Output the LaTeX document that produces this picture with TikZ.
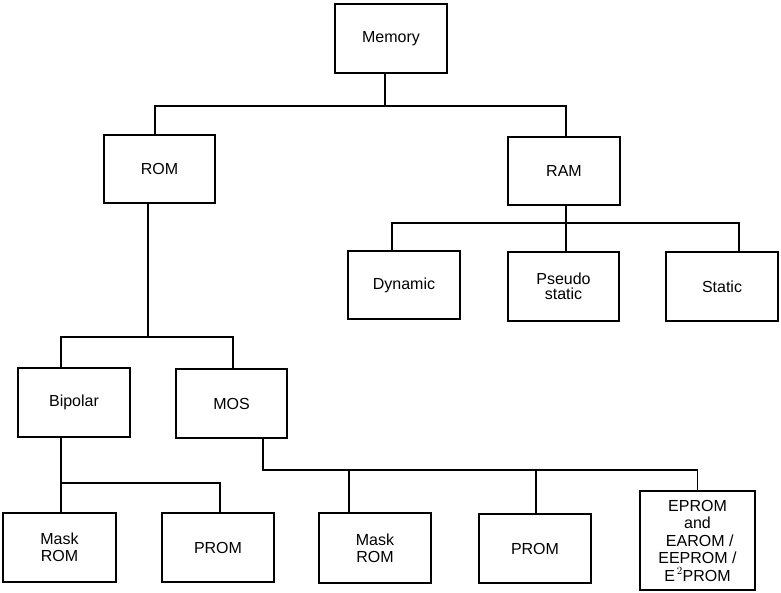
\documentclass[tikz,border=0pt]{standalone}
\usepackage{fontspec}
\setmainfont{Liberation Sans}
\begin{document}
\begin{tikzpicture}[x=1pt,y=-1pt,
  box/.style={draw, line width=1.8pt, rectangle, inner sep=0pt, align=center,
    minimum width=112pt, minimum height=69pt,
    font=\fontsize{16}{17}\selectfont},
  wire/.style={line width=1.3pt}]
\useasboundingbox (0,0) rectangle (781,593);
% level 0
\node[box] (mem) at (391,38.5) {Memory};
% level 1
\node[box, minimum width=111pt, minimum height=68pt] (rom) at (159.5,169) {ROM};
\node[box, minimum height=68pt] (ram) at (564,171) {RAM};
% RAM children
\node[box, minimum height=68pt] (dyn) at (404,285) {Dynamic};
\node[box, minimum width=111pt, font=\fontsize{16}{15}\selectfont] (pse) at (563.5,286.5) {Pseudo\\static};
\node[box] (sta) at (722,286.5) {Static};
% ROM children
\node[box] (bip) at (74,402.5) {Bipolar};
\node[box, minimum width=111pt] (mos) at (231.5,403.5) {MOS};
% Bipolar children
\node[box, minimum width=113pt] (maska) at (59.5,547.5) {Mask\\ROM};
\node[box] (proma) at (218,547.5) {PROM};
% MOS children
\node[box, minimum height=70pt] (maskb) at (375,548) {Mask\\ROM};
\node[box] (promb) at (535,548.5) {PROM};
\node[box, minimum width=115pt, minimum height=99pt, font=\fontsize{16}{17.5}\selectfont] (epr) at (697.5,540.5) {EPROM\\and\\\ EAROM /\\EEPROM /\\E$^{\,2}$PROM};
% bus coordinates
\coordinate (busM) at (385,106);
\coordinate (busROM) at (148,337);
\coordinate (busRAM) at (566,223);
\coordinate (busBip) at (61,483);
\coordinate (busMOS) at (263,470);
% connectors
\draw[wire] ([xshift=-6pt]mem.south) -- (busM);
\draw[wire] ([xshift=-4.5pt]rom.north) |- (busM) -| ([xshift=2pt]ram.north);
\draw[wire] ([xshift=-11.5pt]rom.south) -- (busROM);
\draw[wire] ([xshift=-13pt]bip.north) |- (busROM) -| ([xshift=1.5pt]mos.north);
\draw[wire] ([xshift=2pt]ram.south) -- (busRAM);
\draw[wire] ([xshift=-12pt]dyn.north) |- (busRAM) -| ([xshift=17pt]sta.north);
\draw[wire] (busRAM) -- ([xshift=2.5pt]pse.north);
\draw[wire] ([xshift=-13pt]bip.south) -- (busBip) -- ([xshift=1.5pt]maska.north);
\draw[wire] (busBip) -| ([xshift=2pt]proma.north);
\draw[wire] ([xshift=31.5pt]mos.south) -- (busMOS) -| (epr.north);
\draw[wire] ([xshift=-26pt]maskb.north) |- (busMOS);
\draw[wire] ([xshift=1pt]promb.north) |- (busMOS);
\end{tikzpicture}
\end{document}
